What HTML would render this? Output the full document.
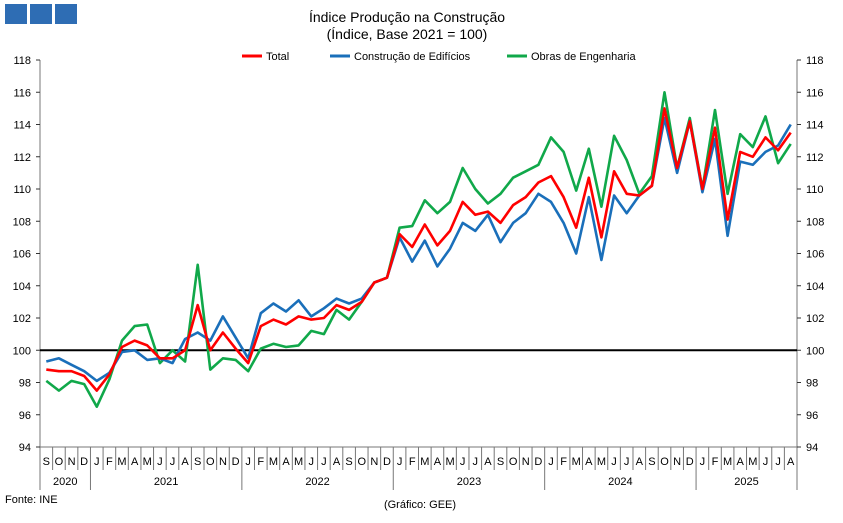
<!DOCTYPE html>
<html><head><meta charset="utf-8"><style>
body{margin:0;background:#fff;width:843px;height:518px;overflow:hidden;font-family:"Liberation Sans",sans-serif}
svg text{font-family:"Liberation Sans",sans-serif}
</style></head><body>
<svg id="s" width="843" height="518" xmlns="http://www.w3.org/2000/svg">
<rect x="5" y="4" width="22" height="20" fill="#2e6db4"/>
<rect x="30" y="4" width="22" height="20" fill="#2e6db4"/>
<rect x="55" y="4" width="22" height="20" fill="#2e6db4"/>
<text x="407" y="22" font-size="14" text-anchor="middle">Índice Produção na Construção</text>
<text x="407" y="39" font-size="14" text-anchor="middle">(Índice, Base 2021 = 100)</text>
<line x1="242" y1="56" x2="262" y2="56" stroke="#f00" stroke-width="3"/>
<text x="266" y="60" font-size="11">Total</text>
<line x1="330" y1="56" x2="350" y2="56" stroke="#1a6fba" stroke-width="3"/>
<text x="354" y="60" font-size="11">Construção de Edifícios</text>
<line x1="507" y1="56" x2="527" y2="56" stroke="#10a84a" stroke-width="3"/>
<text x="531" y="60" font-size="11">Obras de Engenharia</text>
<g id="g"></g>
<text x="5" y="503" font-size="11">Fonte: INE</text>
<text x="420" y="508" font-size="11" text-anchor="middle">(Gráfico: GEE)</text>
</svg>
<script>
var T=[98.8,98.7,98.7,98.4,97.5,98.5,100.2,100.6,100.3,99.5,99.5,100.0,102.8,100.0,101.1,100.1,99.2,101.5,101.9,101.6,102.1,101.9,102.0,102.8,102.5,103.0,104.2,104.5,107.2,106.4,107.8,106.5,107.4,109.2,108.4,108.6,107.9,109.0,109.5,110.4,110.8,109.5,107.6,110.7,107.0,111.1,109.7,109.6,110.2,115.0,111.3,114.2,110.0,113.8,108.1,112.3,112.0,113.2,112.4,113.5];
var C=[99.3,99.5,99.1,98.7,98.1,98.6,99.9,100.0,99.4,99.5,99.2,100.7,101.1,100.6,102.1,100.8,99.5,102.3,102.9,102.4,103.1,102.1,102.6,103.2,102.9,103.2,104.2,104.5,107.0,105.5,106.8,105.2,106.3,107.9,107.4,108.4,106.7,107.9,108.5,109.7,109.2,107.9,106.0,109.5,105.6,109.6,108.5,109.6,110.2,114.4,111.0,114.2,109.8,113.1,107.1,111.7,111.5,112.3,112.7,114.0];
var O=[98.1,97.5,98.1,97.9,96.5,98.2,100.6,101.5,101.6,99.2,100.0,99.3,105.3,98.8,99.5,99.4,98.7,100.1,100.4,100.2,100.3,101.2,101.0,102.5,101.9,103.0,104.2,104.5,107.6,107.7,109.3,108.5,109.2,111.3,110.0,109.1,109.7,110.7,111.1,111.5,113.2,112.3,109.9,112.5,108.9,113.3,111.8,109.7,110.8,116.0,111.3,114.4,110.0,114.9,109.7,113.4,112.6,114.5,111.6,112.8];
var x0=40,x1=797,n=60,w=(x1-x0)/n;
function Y(v){return 447-(v-94)*16.125}
var h='';
h+='<line x1="'+x0+'" y1="60" x2="'+x0+'" y2="490" stroke="#777"/>';
h+='<line x1="'+x1+'" y1="60" x2="'+x1+'" y2="490" stroke="#777"/>';
h+='<line x1="'+x0+'" y1="447" x2="'+x1+'" y2="447" stroke="#777"/>';
for(var v=94;v<=118;v+=2){var y=Y(v);
h+='<line x1="'+(x0-4)+'" y1="'+y+'" x2="'+x0+'" y2="'+y+'" stroke="#333"/>';
h+='<line x1="'+x1+'" y1="'+y+'" x2="'+(x1+4)+'" y2="'+y+'" stroke="#333"/>';
h+='<text x="'+(x0-9)+'" y="'+(y+4)+'" font-size="11" text-anchor="end">'+v+'</text>';
h+='<text x="'+(x1+9)+'" y="'+(y+4)+'" font-size="11">'+v+'</text>';}
var M="SONDJFMAMJJASONDJFMAMJJASONDJFMAMJJASONDJFMAMJJASONDJFMAMJJA";
for(var i=0;i<n;i++){var cx=x0+w*(i+.5);
h+='<text x="'+cx+'" y="465" font-size="11" text-anchor="middle">'+M[i]+'</text>';
if(i>0){var yr=(M[i]=='J'&&M[i-1]=='D');h+='<line x1="'+(x0+w*i)+'" y1="447" x2="'+(x0+w*i)+'" y2="'+(yr?490:470)+'" stroke="#777"/>';}}
var yrs=[[0,4,'2020'],[4,16,'2021'],[16,28,'2022'],[28,40,'2023'],[40,52,'2024'],[52,60,'2025']];
yrs.forEach(function(a){h+='<text x="'+(x0+w*(a[0]+a[1])/2)+'" y="485" font-size="11" text-anchor="middle">'+a[2]+'</text>';});
h+='<line x1="'+x0+'" y1="'+Y(100)+'" x2="'+x1+'" y2="'+Y(100)+'" stroke="#000" stroke-width="2"/>';
function pl(d,c){var p=d.map(function(v,i){return (x0+w*(i+.5)).toFixed(1)+','+Y(v).toFixed(1)}).join(' ');
return '<polyline points="'+p+'" fill="none" stroke="'+c+'" stroke-width="2.6" stroke-linejoin="round"/>';}
h+=pl(O,'#10a84a')+pl(C,'#1a6fba')+pl(T,'#f00');
document.getElementById('g').innerHTML=h;
</script>
</body></html>
